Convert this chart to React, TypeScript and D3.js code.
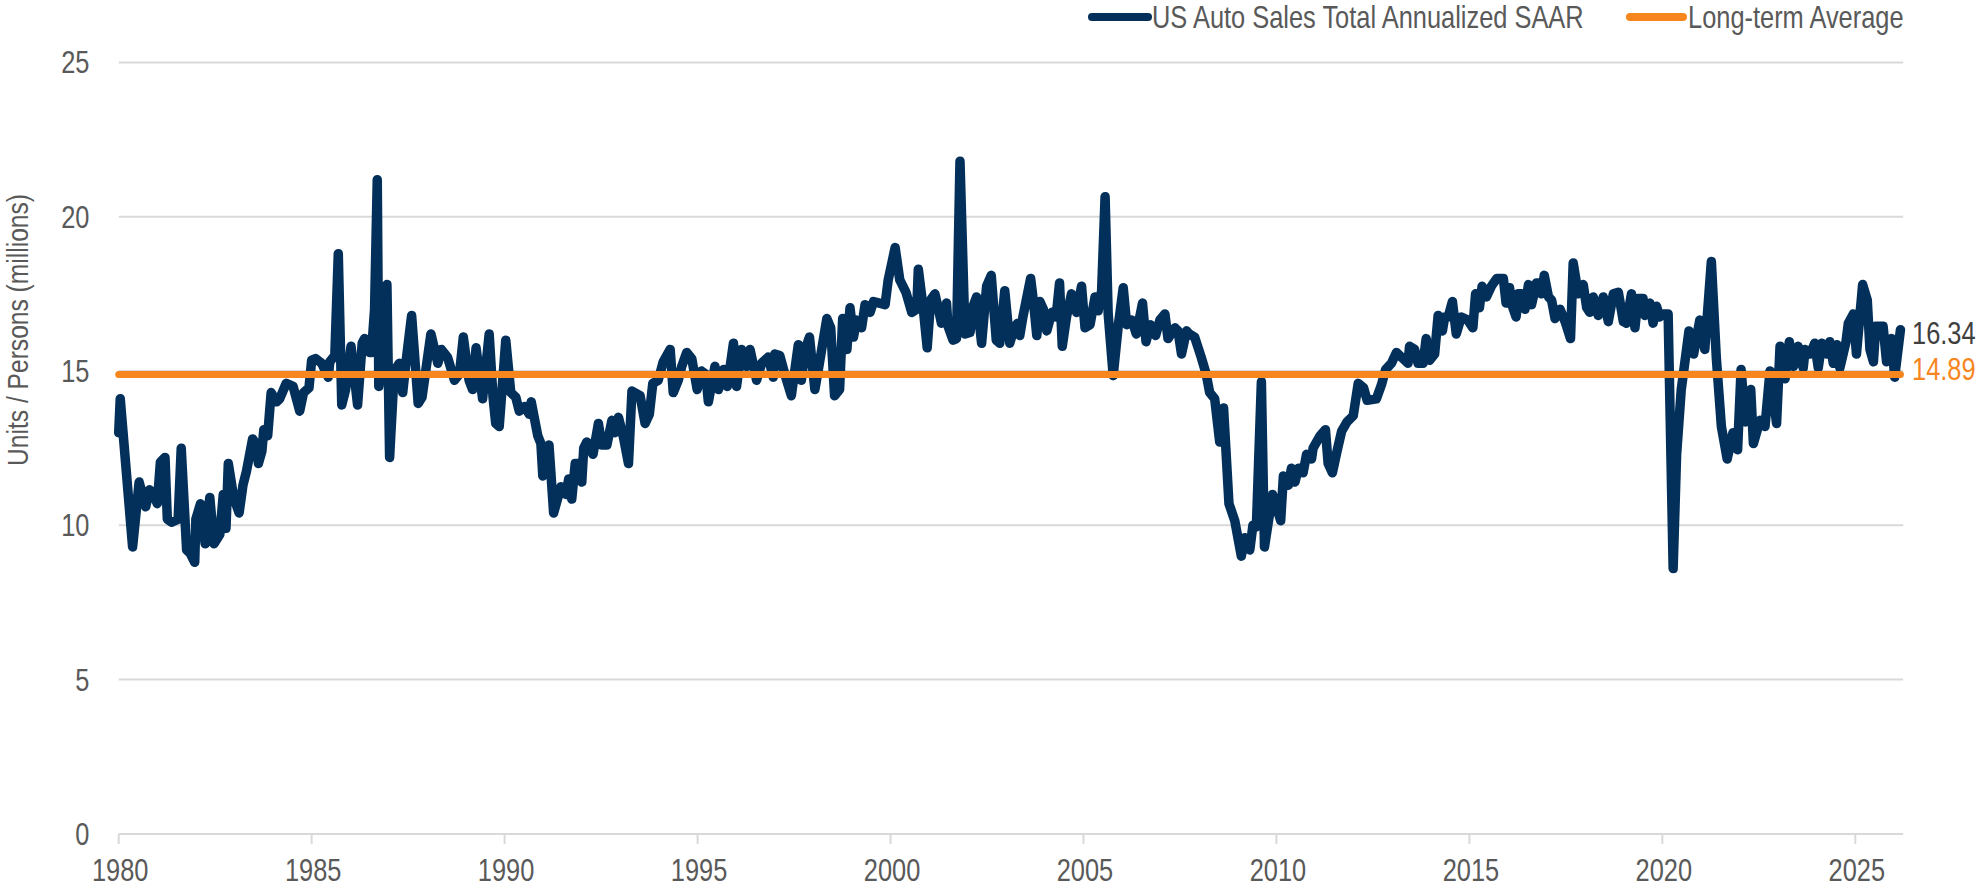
import React from "react";
import * as d3 from "d3";

// ---------- data ----------
const yearTicks = [1980, 1985, 1990, 1995, 2000, 2005, 2010, 2015, 2020, 2025];
const valueTicks = [0, 5, 10, 15, 20, 25];
const longTermAverage = 14.89;
const latestValue = 16.34;
const seriesName = "US Auto Sales Total Annualized SAAR";
const averageName = "Long-term Average";
const yAxisTitle = "Units / Persons (millions)";

const dates1980s = [
  1980.0, 1980.04, 1980.36, 1980.53, 1980.7, 1980.8, 1980.9, 1981.0, 1981.08, 1981.2, 1981.26, 1981.37,
  1981.54, 1981.62, 1981.76, 1981.85, 1981.97, 1982.0, 1982.12, 1982.24, 1982.36, 1982.47, 1982.62, 1982.71,
  1982.78, 1982.84, 1982.98, 1983.12, 1983.22, 1983.31, 1983.47, 1983.57, 1983.62, 1983.71, 1983.76, 1983.86,
  1983.95, 1984.09, 1984.17, 1984.34, 1984.52, 1984.69, 1984.79, 1984.93, 1985.0, 1985.1, 1985.26, 1985.43,
  1985.47, 1985.6, 1985.69, 1985.78, 1985.88, 1986.02, 1986.19, 1986.31, 1986.37, 1986.5, 1986.55, 1986.63,
  1986.7, 1986.74, 1986.95, 1987.02, 1987.14, 1987.27, 1987.36, 1987.45, 1987.59, 1987.76, 1987.86, 1988.09,
  1988.27, 1988.36, 1988.52, 1988.7, 1988.83, 1988.93, 1989.08, 1989.17, 1989.26, 1989.43, 1989.6, 1989.7,
  1989.77, 1989.86,
];
const sales1980s = [
  13.0, 14.1, 9.3, 11.4, 10.6, 11.15, 11.0, 10.7, 12.05, 12.2, 10.2, 10.1,
  10.2, 12.5, 9.2, 9.1, 8.8, 10.2, 10.7, 9.4, 10.9, 9.4, 9.7, 11.0,
  9.9, 12.0, 10.9, 10.4, 11.3, 11.75, 12.8, 12.6, 12.0, 12.4, 13.1, 12.9,
  14.3, 14.0, 14.1, 14.6, 14.5, 13.7, 14.3, 14.45, 15.35, 15.4, 15.25, 14.8,
  15.3, 15.5, 18.8, 13.9, 14.4, 15.8, 13.9, 15.9, 16.05, 15.6, 15.6, 17.0,
  21.2, 14.5, 17.8, 12.2, 15.0, 15.25, 14.3, 15.35, 16.8, 13.95, 14.15, 16.2,
  15.25, 15.7, 15.45, 14.7, 14.9, 16.1, 14.7, 14.4, 15.75, 14.1, 16.2, 14.15,
  13.3, 13.2,
];

const dates1990s = [
  1990.03, 1990.16, 1990.29, 1990.38, 1990.52, 1990.64, 1990.69, 1990.86, 1990.94, 1990.99, 1991.15, 1991.27,
  1991.46, 1991.59, 1991.66, 1991.74, 1991.83, 1991.91, 1992.0, 1992.05, 1992.13, 1992.29, 1992.43, 1992.52,
  1992.65, 1992.78, 1992.86, 1992.95, 1993.08, 1993.21, 1993.3, 1993.51, 1993.64, 1993.75, 1993.84, 1993.98,
  1994.11, 1994.29, 1994.37, 1994.5, 1994.59, 1994.72, 1994.85, 1994.99, 1995.1, 1995.21, 1995.28, 1995.45,
  1995.54, 1995.67, 1995.77, 1995.93, 1996.01, 1996.14, 1996.27, 1996.36, 1996.53, 1996.66, 1996.83, 1996.96,
  1997.0, 1997.13, 1997.26, 1997.43, 1997.61, 1997.69, 1997.79, 1997.9, 1998.04, 1998.13, 1998.35, 1998.45,
  1998.55, 1998.68, 1998.76, 1998.87, 1998.95, 1999.04, 1999.12, 1999.25, 1999.34, 1999.47, 1999.56, 1999.86,
  1999.94,
];
const sales1990s = [
  16.0, 14.3, 14.15, 13.7, 13.85, 13.6, 14.0, 12.9, 12.65, 11.6, 12.6, 10.4,
  11.25, 11.0, 11.5, 10.85, 12.0, 12.0, 11.4, 12.5, 12.7, 12.3, 13.3, 12.6,
  12.6, 13.4, 13.0, 13.5, 12.85, 12.0, 14.35, 14.2, 13.3, 13.6, 14.6, 14.7,
  15.3, 15.7, 14.3, 14.7, 15.15, 15.6, 15.4, 14.4, 15.0, 14.9, 14.0, 15.15,
  14.4, 15.05, 14.5, 15.9, 14.5, 15.7, 15.15, 15.7, 14.7, 15.25, 15.45, 14.8,
  15.55, 15.5, 14.9, 14.2, 15.85, 14.7, 15.7, 16.1, 14.4, 15.05, 16.7, 16.4,
  14.2, 14.4, 16.7, 15.7, 17.05, 16.1, 16.65, 16.4, 17.15, 16.9, 17.25, 17.15,
  17.95,
];

const dates2000s = [
  2000.12, 2000.24, 2000.4, 2000.55, 2000.68, 2000.72, 2000.85, 2000.95, 2001.04, 2001.15, 2001.26, 2001.32,
  2001.45, 2001.49, 2001.62, 2001.71, 2001.8, 2001.93, 2002.06, 2002.14, 2002.23, 2002.36, 2002.49, 2002.61,
  2002.74, 2002.83, 2002.96, 2003.09, 2003.22, 2003.3, 2003.35, 2003.43, 2003.63, 2003.7, 2003.79, 2003.87,
  2003.96, 2004.05, 2004.18, 2004.29, 2004.38, 2004.45, 2004.56, 2004.69, 2004.82, 2004.95, 2005.04, 2005.17,
  2005.3, 2005.38, 2005.47, 2005.56, 2005.64, 2005.77, 2005.9, 2006.03, 2006.12, 2006.25, 2006.37, 2006.53,
  2006.62, 2006.74, 2006.87, 2006.98, 2007.11, 2007.19, 2007.37, 2007.45, 2007.54, 2007.67, 2007.74, 2007.88,
  2008.05, 2008.18, 2008.27, 2008.4, 2008.53, 2008.63, 2008.77, 2008.92, 2009.09, 2009.18, 2009.31, 2009.39,
  2009.48, 2009.61, 2009.69, 2009.9,
];
const sales2000s = [
  19.0, 17.95, 17.55, 16.9, 17.0, 18.3, 17.0, 15.75, 17.3, 17.5, 16.9, 16.55,
  17.2, 16.45, 16.0, 16.05, 21.8, 16.2, 16.25, 17.1, 17.4, 15.9, 17.75, 18.1,
  16.0, 15.9, 17.6, 15.9, 16.45, 16.55, 16.15, 16.75, 18.0, 17.3, 16.15, 17.25,
  17.0, 16.3, 16.9, 16.75, 17.85, 15.8, 16.75, 17.5, 16.9, 17.75, 16.4, 16.5,
  17.4, 16.95, 17.6, 20.65, 16.85, 14.85, 16.45, 17.7, 16.5, 16.65, 16.2, 17.2,
  15.95, 16.5, 16.15, 16.65, 16.85, 16.05, 16.4, 16.3, 15.55, 16.3, 16.2, 16.1,
  15.45, 14.9, 14.3, 14.1, 12.7, 13.8, 10.7, 10.15, 9.0, 9.6, 9.2, 10.0,
  9.95, 14.65, 9.3, 11.0,
];

const dates2010s = [
  2010.11, 2010.18, 2010.31, 2010.39, 2010.48, 2010.57, 2010.69, 2010.78, 2010.91, 2010.95, 2011.13, 2011.27,
  2011.34, 2011.45, 2011.57, 2011.69, 2011.83, 2011.99, 2012.12, 2012.26, 2012.35, 2012.59, 2012.72, 2012.83,
  2012.98, 2013.11, 2013.28, 2013.41, 2013.45, 2013.58, 2013.67, 2013.8, 2013.88, 2013.97, 2014.1, 2014.19,
  2014.3, 2014.36, 2014.45, 2014.56, 2014.66, 2014.79, 2014.96, 2015.09, 2015.16, 2015.26, 2015.33, 2015.44,
  2015.57, 2015.71, 2015.88, 2015.95, 2016.04, 2016.1, 2016.21, 2016.27, 2016.36, 2016.44, 2016.53, 2016.61,
  2016.74, 2016.83, 2016.87, 2016.94, 2017.05, 2017.13, 2017.22, 2017.35, 2017.48, 2017.62, 2017.69, 2017.82,
  2017.95, 2018.04, 2018.12, 2018.21, 2018.34, 2018.47, 2018.6, 2018.73, 2018.86, 2018.99, 2019.07, 2019.2,
  2019.29, 2019.37, 2019.5, 2019.55, 2019.68, 2019.76, 2019.85, 2019.93,
];
const sales2010s = [
  10.15, 11.6, 11.3, 11.85, 11.4, 11.85, 11.7, 12.3, 12.15, 12.5, 12.9, 13.1,
  12.0, 11.7, 12.4, 13.05, 13.35, 13.55, 14.6, 14.45, 14.05, 14.1, 14.55, 15.05,
  15.25, 15.6, 15.4, 15.25, 15.8, 15.7, 15.25, 15.25, 16.05, 15.35, 15.55, 16.8,
  16.3, 16.75, 16.75, 17.25, 16.2, 16.75, 16.65, 16.4, 17.5, 17.05, 17.75, 17.4,
  17.75, 18.0, 18.0, 17.2, 17.7, 17.15, 16.75, 17.5, 17.5, 17.0, 17.8, 17.15,
  17.85, 17.85, 17.5, 18.1, 17.4, 17.3, 16.7, 17.0, 16.6, 16.05, 18.5, 17.5,
  17.8, 17.05, 16.9, 17.4, 16.8, 17.4, 16.6, 17.5, 17.55, 16.6, 16.55, 17.5,
  16.4, 17.35, 17.35, 16.8, 17.2, 16.55, 17.1, 16.75,
];

const dates2020s = [
  2020.02, 2020.15, 2020.28, 2020.37, 2020.49, 2020.69, 2020.81, 2020.97, 2021.1, 2021.27, 2021.4, 2021.53,
  2021.68, 2021.83, 2021.95, 2022.04, 2022.15, 2022.29, 2022.36, 2022.53, 2022.66, 2022.79, 2022.96, 2023.05,
  2023.18, 2023.29, 2023.4, 2023.52, 2023.65, 2023.7, 2023.83, 2023.95, 2024.04, 2024.13, 2024.26, 2024.34,
  2024.43, 2024.52, 2024.6, 2024.76, 2024.82, 2024.95, 2025.03, 2025.19, 2025.31, 2025.38, 2025.47, 2025.53,
  2025.64, 2025.72, 2025.81, 2025.94, 2026.02, 2026.17,
];
const sales2020s = [
  16.85, 16.85, 8.6, 12.3, 14.4, 16.3, 15.55, 16.65, 15.7, 18.55, 15.4, 13.2,
  12.15, 13.0, 12.45, 15.05, 13.35, 14.4, 12.65, 13.4, 13.2, 15.0, 13.3, 15.8,
  14.75, 15.95, 15.15, 15.8, 15.1, 15.7, 15.55, 15.9, 15.1, 15.9, 15.55, 15.95,
  15.25, 15.85, 15.1, 15.95, 16.55, 16.85, 15.55, 17.8, 17.3, 15.7, 15.3, 16.45,
  16.45, 16.45, 15.3, 16.05, 14.8, 16.34,
];

// ---------- layout / style ----------
const W = 1980;
const H = 888;
const FONT = "'Liberation Sans', Arial, sans-serif";
const NARROW = 0.82; // Arial Narrow look from Liberation Sans
const NAVY = "#03305A";
const ORANGE = "#F7861F";
const GRID = "#D9D9D9";
const TEXT = "#595959";

type NTProps = {
  x: number;
  y: number;
  size: number;
  fill: string;
  anchor?: "start" | "middle" | "end";
  rotate?: number;
  children: React.ReactNode;
};

function NarrowText({ x, y, size, fill, anchor = "start", rotate = 0, children }: NTProps) {
  return (
    <g transform={`translate(${x},${y}) rotate(${rotate}) scale(${NARROW},1)`}>
      <text x={0} y={0} textAnchor={anchor} fontSize={size} fill={fill} fontFamily={FONT}>
        {children}
      </text>
    </g>
  );
}

export default function App() {
  const dates = [...dates1980s, ...dates1990s, ...dates2000s, ...dates2010s, ...dates2020s];
  const sales = [...sales1980s, ...sales1990s, ...sales2000s, ...sales2010s, ...sales2020s];
  const points: [number, number][] = dates.map((d, i) => [d, sales[i]]);

  const x = d3.scaleLinear().domain([1980, 2025]).range([118.7, 1855.3]);
  const y = d3.scaleLinear().domain([0, 25]).range([833.9, 62.4]);
  const xEnd = x(2026.24);
  const lastDate = dates[dates.length - 1];

  const line = d3
    .line<[number, number]>()
    .x((d) => x(d[0]))
    .y((d) => y(d[1]));

  return (
    <svg
      width={W}
      height={H}
      viewBox={`0 0 ${W} ${H}`}
      style={{ position: "absolute", left: 0, top: 0, background: "#fff" }}
      fontFamily={FONT}
    >
      {/* gridlines */}
      {valueTicks.map((v) => (
        <line key={"g" + v} x1={x(1980)} x2={xEnd} y1={y(v)} y2={y(v)} stroke={GRID} strokeWidth={2} />
      ))}
      {/* x ticks */}
      {yearTicks.map((t) => (
        <line key={"t" + t} x1={x(t)} x2={x(t)} y1={y(0)} y2={y(0) + 10} stroke={GRID} strokeWidth={2} />
      ))}
      {/* y tick labels */}
      {valueTicks.map((v) => (
        <NarrowText key={"yl" + v} x={89.5} y={y(v) + 11} anchor="end" size={31} fill={TEXT}>
          {v}
        </NarrowText>
      ))}
      {/* x tick labels */}
      {yearTicks.map((t) => (
        <NarrowText key={"xl" + t} x={x(t) + 1.5} y={881} anchor="middle" size={31} fill={TEXT}>
          {t}
        </NarrowText>
      ))}
      {/* y axis title */}
      <NarrowText x={28} y={330} rotate={-90} anchor="middle" size={30} fill={TEXT}>
        {yAxisTitle}
      </NarrowText>

      {/* series */}
      <path
        d={line(points) || ""}
        fill="none"
        stroke={NAVY}
        strokeWidth={9.5}
        strokeLinejoin="round"
        strokeLinecap="round"
      />
      {/* long-term average */}
      <line
        x1={x(1980)}
        x2={x(lastDate)}
        y1={y(longTermAverage)}
        y2={y(longTermAverage)}
        stroke={ORANGE}
        strokeWidth={7}
        strokeLinecap="round"
      />

      {/* end labels */}
      <NarrowText x={1912} y={344} size={31} fill="#404040">
        {latestValue.toFixed(2)}
      </NarrowText>
      <NarrowText x={1912} y={380} size={31} fill={ORANGE}>
        {longTermAverage.toFixed(2)}
      </NarrowText>

      {/* legend */}
      <line x1={1092} x2={1148} y1={17} y2={17} stroke={NAVY} strokeWidth={8} strokeLinecap="round" />
      <NarrowText x={1152} y={28} size={31} fill={TEXT}>
        {seriesName}
      </NarrowText>
      <line x1={1630} x2={1683} y1={17} y2={17} stroke={ORANGE} strokeWidth={8} strokeLinecap="round" />
      <NarrowText x={1688} y={28} size={31} fill={TEXT}>
        {averageName}
      </NarrowText>
    </svg>
  );
}
